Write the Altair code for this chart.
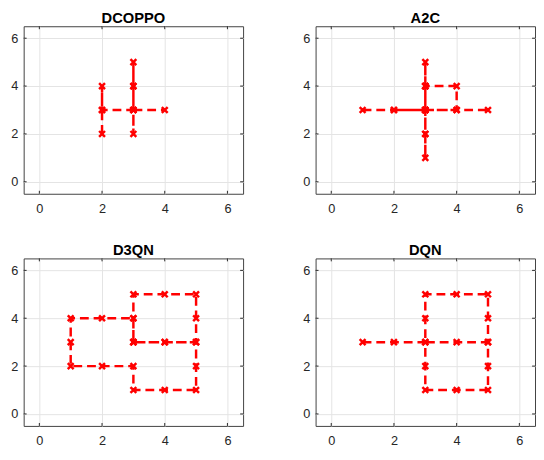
import altair as alt
import pandas as pd

titles = ["DCOPPO", "A2C", "D3QN", "DQN"]

dcoppo_x = [2, 2, 2, 2, 3, 3, 3, 3, 3, 3, 3, 4]
dcoppo_y = [2, 3, 4, 3, 3, 4, 5, 4, 3, 2, 3, 3]

a2c_x = [1, 2, 3, 3, 4, 4, 3, 2, 3, 3, 3, 3, 3, 3, 3, 3, 3, 4, 5]
a2c_y = [3, 3, 3, 4, 4, 3, 3, 3, 3, 2, 1, 2, 3, 4, 5, 4, 3, 3, 3]

d3qn_x = [3, 3, 2, 1, 1, 1, 2, 3, 3, 4, 5, 5, 5, 4, 3, 3, 3, 4, 5, 5, 5, 4, 3]
d3qn_y = [3, 4, 4, 4, 3, 2, 2, 2, 1, 1, 1, 2, 3, 3, 3, 4, 5, 5, 5, 4, 3, 3, 3]

dqn_x = [1, 2, 3, 3, 3, 4, 5, 5, 5, 4, 3, 3, 3, 4, 5, 5, 5]
dqn_y = [3, 3, 3, 2, 1, 1, 1, 2, 3, 3, 3, 4, 5, 5, 5, 4, 3]

tick_values = [0, 2, 4, 6]
axis_range = [-0.5, 6.5]

W, H = 224, 171
FONT = "Liberation Sans"
AX = "#262626"
TL = 3


def panel(name, xs, ys):
    df = pd.DataFrame({"x": xs, "y": ys, "step": list(range(len(xs)))})
    tdf = pd.DataFrame({"t": tick_values})
    xsc = alt.Scale(domain=axis_range, nice=False, zero=False)
    ysc = alt.Scale(domain=axis_range, nice=False, zero=False)
    xax = alt.Axis(values=tick_values, title=None, grid=True, ticks=False, domain=False,
                   labelPadding=9, gridColor="#e3e3e3", labelFont=FONT, labelFontSize=13,
                   labelColor=AX)
    yax = alt.Axis(values=tick_values, title=None, grid=True, ticks=False, domain=False,
                   labelPadding=6, gridColor="#e3e3e3", labelFont=FONT, labelFontSize=13,
                   labelColor=AX)
    base = alt.Chart(df)
    line = base.mark_line(color="#ff0000", strokeWidth=2.5, strokeDash=[9, 5]).encode(
        x=alt.X("x:Q", scale=xsc, axis=xax),
        y=alt.Y("y:Q", scale=ysc, axis=yax),
        order="step:Q",
    )
    pts = base.mark_point(shape="M-1,-1L1,1M-1,1L1,-1", size=36, strokeWidth=2.5,
                          color="#ff0000", filled=False, opacity=1).encode(
        x=alt.X("x:Q", scale=xsc, axis=xax), y=alt.Y("y:Q", scale=ysc, axis=yax))
    tb = alt.Chart(tdf).mark_rule(color=AX, strokeWidth=1).encode(
        x=alt.X("t:Q", scale=xsc, axis=xax), y=alt.value(H - TL), y2=alt.value(H))
    tt = alt.Chart(tdf).mark_rule(color=AX, strokeWidth=1).encode(
        x=alt.X("t:Q", scale=xsc, axis=xax), y=alt.value(0), y2=alt.value(TL))
    tlft = alt.Chart(tdf).mark_rule(color=AX, strokeWidth=1).encode(
        y=alt.Y("t:Q", scale=ysc, axis=yax), x=alt.value(0), x2=alt.value(TL))
    trt = alt.Chart(tdf).mark_rule(color=AX, strokeWidth=1).encode(
        y=alt.Y("t:Q", scale=ysc, axis=yax), x=alt.value(W - TL), x2=alt.value(W))
    return alt.layer(tb, tt, tlft, trt, line, pts).properties(
        width=W, height=H,
        title=alt.TitleParams(name, font=FONT, fontSize=15, fontWeight="bold",
                              color="#000000", offset=0, anchor="middle"))


p1 = panel(titles[0], dcoppo_x, dcoppo_y)
p2 = panel(titles[1], a2c_x, a2c_y)
p3 = panel(titles[2], d3qn_x, d3qn_y)
p4 = panel(titles[3], dqn_x, dqn_y)

chart = alt.vconcat(
    alt.hconcat(p1, p2, spacing=59),
    alt.hconcat(p3, p4, spacing=59),
    spacing=27,
).properties(
    padding={"left": 2, "top": -2, "right": 0, "bottom": 0}
).configure_view(stroke="#404040", strokeWidth=1)

chart.save("out.html", embed_options={"renderer": "svg", "actions": False})
